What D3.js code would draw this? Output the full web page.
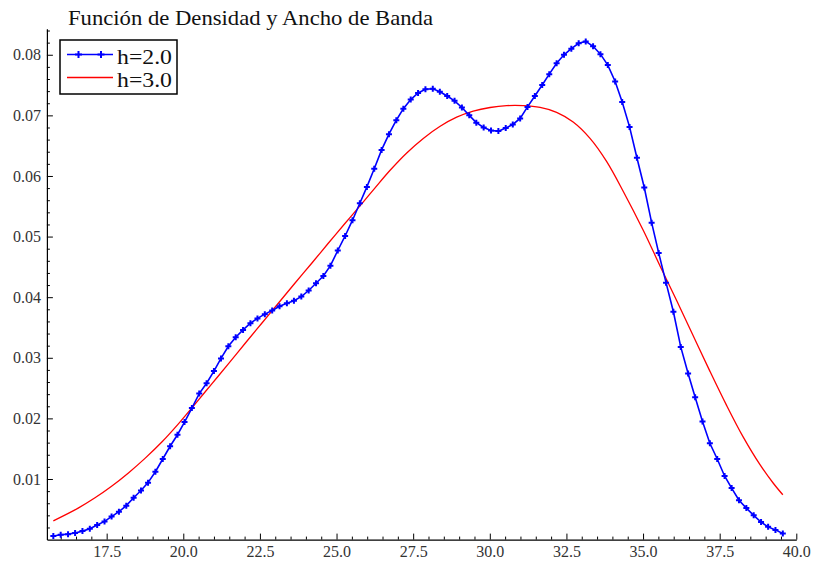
<!DOCTYPE html>
<html>
<head>
<meta charset="utf-8">
<script src="https://cdn.jsdelivr.net/npm/d3@7"></script>
<style>
  html, body { margin: 0; padding: 0; background: #fff; }
  svg { display: block; }
</style>
</head>
<body>
<svg id="chart" width="815" height="561"></svg>
<script>
// ---- data ----
const title = "Función de Densidad y Ancho de Banda";
const seriesNames = ["h=2.0", "h=3.0"];

const blueX = [15.76, 16.00, 16.24, 16.47, 16.71, 16.95, 17.19, 17.43, 17.66, 17.90,
  18.14, 18.38, 18.62, 18.85, 19.09, 19.33, 19.57, 19.81, 20.04, 20.28,
  20.52, 20.76, 21.00, 21.23, 21.47, 21.71, 21.95, 22.19, 22.42, 22.66,
  22.90, 23.14, 23.38, 23.61, 23.85, 24.09, 24.33, 24.57, 24.80, 25.04,
  25.28, 25.52, 25.76, 25.99, 26.23, 26.47, 26.71, 26.95, 27.18, 27.42,
  27.66, 27.90, 28.14, 28.37, 28.61, 28.85, 29.09, 29.33, 29.56, 29.80,
  30.04, 30.28, 30.52, 30.75, 30.99, 31.23, 31.47, 31.71, 31.94, 32.18,
  32.42, 32.66, 32.90, 33.13, 33.37, 33.61, 33.85, 34.09, 34.32, 34.56,
  34.80, 35.04, 35.28, 35.51, 35.75, 35.99, 36.23, 36.47, 36.70, 36.94,
  37.18, 37.42, 37.66, 37.89, 38.13, 38.37, 38.61, 38.85, 39.08, 39.32,
  39.56];
const blueY = [0.0006, 0.0008, 0.0009, 0.0011, 0.0014, 0.0018, 0.0024, 0.0030, 0.0038, 0.0046,
  0.0056, 0.0069, 0.0081, 0.0094, 0.0112, 0.0133, 0.0154, 0.0173, 0.0194, 0.0217,
  0.0241, 0.0258, 0.0278, 0.0299, 0.0319, 0.0334, 0.0346, 0.0357, 0.0365, 0.0372,
  0.0378, 0.0385, 0.0390, 0.0394, 0.0401, 0.0411, 0.0423, 0.0435, 0.0452, 0.0477,
  0.0501, 0.0527, 0.0555, 0.0582, 0.0612, 0.0643, 0.0669, 0.0692, 0.0711, 0.0726,
  0.0737, 0.0743, 0.0744, 0.0739, 0.0732, 0.0724, 0.0713, 0.0700, 0.0688, 0.0680,
  0.0675, 0.0674, 0.0679, 0.0685, 0.0695, 0.0714, 0.0732, 0.0750, 0.0768, 0.0786,
  0.0800, 0.0810, 0.0819, 0.0822, 0.0814, 0.0801, 0.0783, 0.0756, 0.0722, 0.0681,
  0.0630, 0.0581, 0.0523, 0.0473, 0.0424, 0.0376, 0.0318, 0.0274, 0.0235, 0.0195,
  0.0159, 0.0133, 0.0105, 0.0085, 0.0065, 0.0052, 0.0040, 0.0029, 0.0021, 0.0016,
  0.0010];

const redX = [15.76, 16.57, 17.12, 17.66, 18.21, 18.75, 19.30, 19.84, 20.39, 20.93,
  21.47, 22.02, 22.56, 23.10, 23.64, 24.19, 24.73, 25.28, 25.82, 26.25,
  26.74, 27.29, 27.83, 28.38, 28.92, 29.46, 30.01, 30.55, 31.09, 31.64,
  32.18, 32.72, 33.27, 33.81, 34.36, 35.01, 35.55, 36.10, 36.64, 37.18,
  37.73, 38.27, 38.81, 39.25, 39.56];
const redY = [0.0031, 0.0052, 0.0069, 0.0088, 0.0110, 0.0134, 0.0161, 0.0191, 0.0224, 0.0257,
  0.0290, 0.0324, 0.0357, 0.0390, 0.0423, 0.0456, 0.0489, 0.0522, 0.0554, 0.0580,
  0.0609, 0.0638, 0.0662, 0.0682, 0.0697, 0.0707, 0.0713, 0.0716, 0.0716, 0.0713,
  0.0705, 0.0689, 0.0662, 0.0624, 0.0574, 0.0510, 0.0452, 0.0394, 0.0336, 0.0278,
  0.0221, 0.0169, 0.0124, 0.0093, 0.0074];

const xMajorTicks = [17.5, 20.0, 22.5, 25.0, 27.5, 30.0, 32.5, 35.0, 37.5, 40.0];
const xTickLabels = ["17.5", "20.0", "22.5", "25.0", "27.5", "30.0", "32.5", "35.0", "37.5", "40.0"];
const yMajorTicks = [0.01, 0.02, 0.03, 0.04, 0.05, 0.06, 0.07, 0.08];
const yTickLabels = ["0.01", "0.02", "0.03", "0.04", "0.05", "0.06", "0.07", "0.08"];
const xDomain = [15.55, 40.0];
const yDomain = [0, 0.0843];

// ---- drawing ----
const svg = d3.select("#chart");
const x = d3.scaleLinear().domain(xDomain).range([46.9, 796.3]);
const y = d3.scaleLinear().domain(yDomain).range([539.6, 28.7]);

const tickFont = "'Liberation Serif', 'Times New Roman', serif";

// minor ticks
const xMinor = d3.range(16.0, 40.01, 0.5).filter(v => !xMajorTicks.some(m => Math.abs(m - v) < 1e-6));
const yMinor = d3.range(0.002, 0.0845, 0.002).filter(v => !yMajorTicks.some(m => Math.abs(m - v) < 1e-6));

svg.append("g")
  .attr("transform", `translate(0,${y(0)})`)
  .call(d3.axisBottom(x).tickValues(xMinor).tickSizeInner(-3).tickSizeOuter(0).tickFormat(""))
  .call(g => g.select(".domain").remove());
svg.append("g")
  .attr("transform", `translate(${x(xDomain[0])},0)`)
  .call(d3.axisLeft(y).tickValues(yMinor).tickSizeInner(-3).tickSizeOuter(0).tickFormat(""))
  .call(g => g.select(".domain").remove());

const xAxis = svg.append("g")
  .attr("transform", `translate(0,${y(0)})`)
  .call(d3.axisBottom(x).tickValues(xMajorTicks).tickSizeInner(-6).tickSizeOuter(0).tickPadding(6)
    .tickFormat((d, i) => xTickLabels[i]));
const yAxis = svg.append("g")
  .attr("transform", `translate(${x(xDomain[0])},0)`)
  .call(d3.axisLeft(y).tickValues(yMajorTicks).tickSizeInner(-6).tickSizeOuter(0).tickPadding(6)
    .tickFormat((d, i) => yTickLabels[i]));

[xAxis, yAxis].forEach(g => {
  g.selectAll("text").attr("font-family", tickFont).attr("font-size", 16).attr("fill", "#333");
  g.select(".domain").attr("stroke", "#000").attr("stroke-width", 1.2);
});
svg.selectAll(".tick line").attr("stroke", "#000");

// red curve
const redData = d3.zip(redX, redY);
svg.append("path")
  .datum(redData)
  .attr("fill", "none")
  .attr("stroke", "#ff0000")
  .attr("stroke-width", 1.3)
  .attr("d", d3.line().x(d => x(d[0])).y(d => y(d[1])).curve(d3.curveCatmullRom));

// blue curve with + markers
const blueData = d3.zip(blueX, blueY);
svg.append("path")
  .datum(blueData)
  .attr("fill", "none")
  .attr("stroke", "#0000ff")
  .attr("stroke-width", 1.6)
  .attr("d", d3.line().x(d => x(d[0])).y(d => y(d[1])));

const plus = (cx, cy, r) => `M${cx - r},${cy}H${cx + r}M${cx},${cy - r}V${cy + r}`;
svg.append("g").selectAll("path")
  .data(blueData)
  .join("path")
  .attr("d", d => plus(x(d[0]), y(d[1]), 3))
  .attr("stroke", "#0000ff")
  .attr("stroke-width", 2)
  .attr("fill", "none");

// title
svg.append("text")
  .attr("x", 68).attr("y", 25)
  .attr("font-family", "'Liberation Serif', 'Times New Roman', serif")
  .attr("font-size", 21)
  .attr("textLength", 365)
  .attr("lengthAdjust", "spacingAndGlyphs")
  .attr("fill", "#111")
  .text(title);

// legend
const lg = svg.append("g");
lg.append("rect").attr("x", 60).attr("y", 40).attr("width", 117).attr("height", 54)
  .attr("fill", "#fff").attr("stroke", "#000").attr("stroke-width", 1.5);
const legendRows = [
  {name: seriesNames[0], color: "#0000ff", ly: 54.5, markers: true},
  {name: seriesNames[1], color: "#ff0000", ly: 77.5, markers: false}
];
legendRows.forEach(r => {
  lg.append("line").attr("x1", 67).attr("x2", 113).attr("y1", r.ly).attr("y2", r.ly)
    .attr("stroke", r.color).attr("stroke-width", r.markers ? 1.6 : 1.4);
  if (r.markers) {
    [78.5, 101].forEach(mx => lg.append("path").attr("d", plus(mx, r.ly, 3.5))
      .attr("stroke", r.color).attr("stroke-width", 2));
  }
  lg.append("text").attr("x", 117).attr("y", r.ly + 9)
    .attr("font-family", "'Liberation Serif', 'Times New Roman', serif")
    .attr("font-size", 22)
    .attr("textLength", 55).attr("lengthAdjust", "spacingAndGlyphs")
    .attr("fill", "#111")
    .text(r.name);
});
</script>
</body>
</html>
